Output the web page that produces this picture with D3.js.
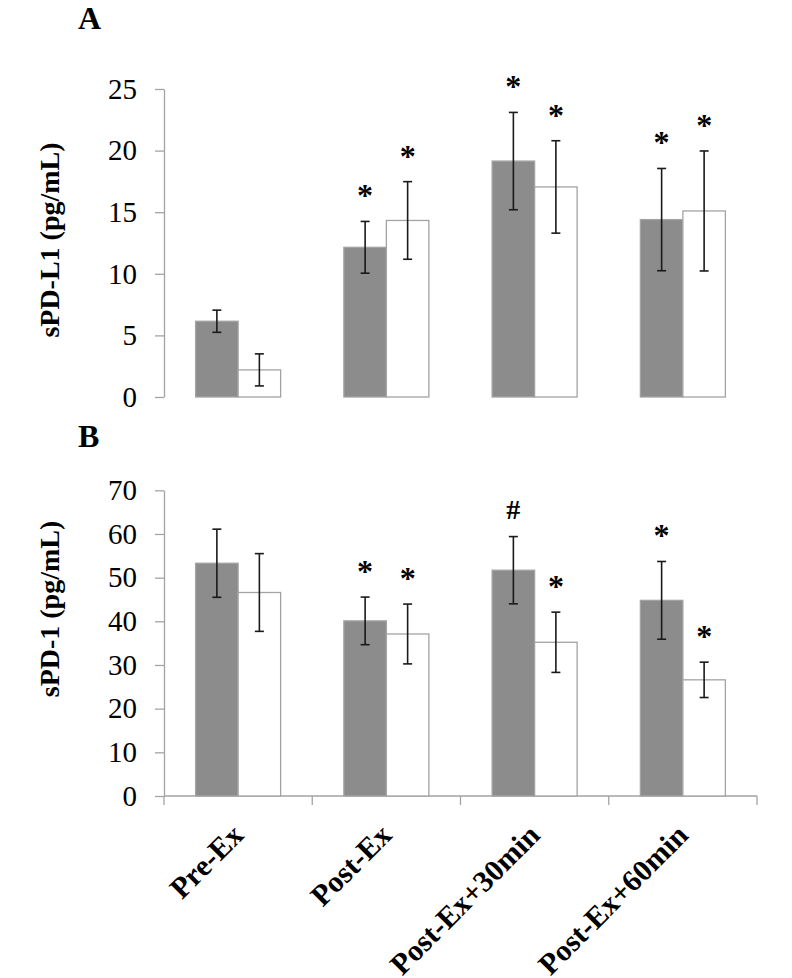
<!DOCTYPE html>
<html>
<head>
<meta charset="utf-8">
<script src="https://cdn.jsdelivr.net/npm/d3@7"></script>
<style>
  html, body { margin: 0; padding: 0; background: #fff; }
  svg { display: block; }
  text { font-family: "Liberation Serif", "Times New Roman", serif; fill: #000; }
</style>
</head>
<body>
<svg id="chart" width="792" height="978"></svg>
<script>
// ---- data ----
const categories = ["Pre-Ex", "Post-Ex", "Post-Ex+30min", "Post-Ex+60min"];
const seriesKeys = ["gray", "white"];

// Panel A: sPD-L1 (pg/mL)
const aGray      = [6.15, 12.15, 19.15, 14.4];
const aGrayErr   = [0.9, 2.1, 3.95, 4.15];
const aWhite     = [2.2, 14.33, 17.05, 15.1];
const aWhiteErr  = [1.3, 3.15, 3.75, 4.87];
const aGrayMark  = ["", "*", "*", "*"];
const aWhiteMark = ["", "*", "*", "*"];
const aTicks     = [0, 5, 10, 15, 20, 25];

// Panel B: sPD-1 (pg/mL)
const bGray      = [53.3, 40.1, 51.7, 44.8];
const bGrayErr   = [7.8, 5.45, 7.7, 8.9];
const bWhite     = [46.6, 37.1, 35.2, 26.6];
const bWhiteErr  = [8.9, 6.85, 6.9, 4.05];
const bGrayMark  = ["", "*", "#", "*"];
const bWhiteMark = ["", "*", "*", "*"];
const bTicks     = [0, 10, 20, 30, 40, 50, 60, 70];

// ---- drawing ----
const svg = d3.select("#chart");
const axisColor = "#a3a3a3";
const fills = { gray: "#8c8c8c", white: "#ffffff" };

const x0 = d3.scaleBand().domain(categories).range([164, 757]).paddingInner(0).paddingOuter(0);
const x1 = d3.scaleBand().domain(seriesKeys).range([0, x0.bandwidth()]).paddingInner(0).paddingOuter(0.744);

function panel(opts) {
  const g = svg.append("g");
  const y = d3.scaleLinear().domain([0, opts.max]).range([opts.bottom, opts.top]);

  // y axis
  const yAxis = d3.axisLeft(y).tickValues(opts.ticks).tickSize(9).tickPadding(18).tickSizeOuter(0);
  const ya = g.append("g").attr("transform", "translate(164,0)").call(yAxis);
  ya.select(".domain").attr("stroke", axisColor).attr("stroke-width", 1.3);
  ya.selectAll(".tick line").attr("stroke", axisColor).attr("stroke-width", 1.3);
  ya.selectAll(".tick text")
    .attr("font-family", "Liberation Serif, serif")
    .attr("font-size", 29).attr("fill", "#000");

  // x axis (panel B only)
  if (opts.xAxis) {
    const xa = g.append("g").attr("transform", `translate(0,${opts.bottom})`);
    xa.append("line").attr("x1", x0.range()[0]).attr("x2", x0.range()[1])
      .attr("y1", 0).attr("y2", 0).attr("stroke", axisColor).attr("stroke-width", 1.3);
    const bounds = categories.map(c => x0(c)).concat([x0.range()[1]]);
    xa.selectAll("line.tk").data(bounds).join("line").attr("class", "tk")
      .attr("x1", d => d).attr("x2", d => d).attr("y1", 0).attr("y2", 9)
      .attr("stroke", axisColor).attr("stroke-width", 1.3);
    xa.selectAll("text.cat").data(categories).join("text").attr("class", "cat")
      .attr("text-anchor", "end")
      .attr("font-size", 30).attr("font-weight", "bold")
      .attr("transform", d => `translate(${x0(d) + x0.bandwidth() / 2 + 7},41) rotate(-45)`)
      .text(d => d);
  }

  // rows
  const rows = categories.map((c, i) => ({
    cat: c,
    items: [
      { key: "gray", v: opts.gray[i], e: opts.grayErr[i], m: opts.grayMark[i] },
      { key: "white", v: opts.white[i], e: opts.whiteErr[i], m: opts.whiteMark[i] }
    ]
  }));

  const groups = g.selectAll("g.grp").data(rows).join("g").attr("class", "grp")
    .attr("transform", d => `translate(${x0(d.cat)},0)`);

  groups.selectAll("rect").data(d => d.items).join("rect")
    .attr("x", d => x1(d.key))
    .attr("width", x1.bandwidth())
    .attr("y", d => y(d.v))
    .attr("height", d => y(0) - y(d.v))
    .attr("fill", d => fills[d.key])
    .attr("stroke", axisColor)
    .attr("stroke-width", 1.3);

  const eb = groups.selectAll("g.err").data(d => d.items).join("g").attr("class", "err")
    .attr("transform", d => `translate(${x1(d.key) + x1.bandwidth() / 2},0)`);
  eb.append("line").attr("x1", 0).attr("x2", 0)
    .attr("y1", d => y(d.v + d.e)).attr("y2", d => y(d.v - d.e))
    .attr("stroke", "#1a1a1a").attr("stroke-width", 1.6);
  eb.append("line").attr("x1", -4.5).attr("x2", 4.5)
    .attr("y1", d => y(d.v + d.e)).attr("y2", d => y(d.v + d.e))
    .attr("stroke", "#1a1a1a").attr("stroke-width", 1.6);
  eb.append("line").attr("x1", -4.5).attr("x2", 4.5)
    .attr("y1", d => y(d.v - d.e)).attr("y2", d => y(d.v - d.e))
    .attr("stroke", "#1a1a1a").attr("stroke-width", 1.6);
  eb.append("text")
    .attr("text-anchor", "middle")
    .attr("font-weight", "bold")
    .attr("font-size", d => d.m === "#" ? 28 : 32)
    .attr("y", d => y(d.v + d.e) - (d.m === "#" ? 18 : 15))
    .text(d => d.m);

  // y title
  g.append("text")
    .attr("transform", `translate(59,${opts.titleY}) rotate(-90)`)
    .attr("text-anchor", "middle")
    .attr("font-size", 28).attr("font-weight", "bold")
    .text(opts.title);

  // panel letter
  g.append("text").attr("x", 78).attr("y", opts.letterY)
    .attr("font-size", 32).attr("font-weight", "bold")
    .text(opts.letter);
}

panel({
  max: 25, top: 89, bottom: 397, ticks: aTicks,
  gray: aGray, grayErr: aGrayErr, white: aWhite, whiteErr: aWhiteErr,
  grayMark: aGrayMark, whiteMark: aWhiteMark,
  title: "sPD-L1 (pg/mL)", titleY: 240, letter: "A", letterY: 29, xAxis: false
});

panel({
  max: 70, top: 490.3, bottom: 796, ticks: bTicks,
  gray: bGray, grayErr: bGrayErr, white: bWhite, whiteErr: bWhiteErr,
  grayMark: bGrayMark, whiteMark: bWhiteMark,
  title: "sPD-1 (pg/mL)", titleY: 609, letter: "B", letterY: 447, xAxis: true
});
</script>
</body>
</html>
